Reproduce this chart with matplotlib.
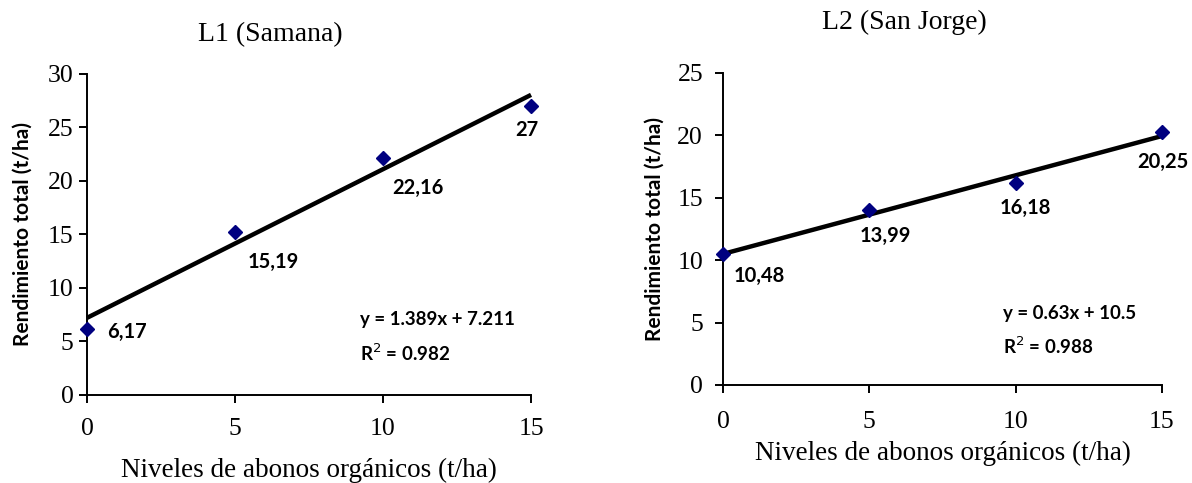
import matplotlib
matplotlib.use("Agg")
import matplotlib.pyplot as plt
import numpy as np

# data
niveles = [0, 5, 10, 15]
l1_rend = [6.17, 15.19, 22.16, 27]
l1_labels = ['6,17', '15,19', '22,16', '27']
l2_rend = [10.48, 13.99, 16.18, 20.25]
l2_labels = ['10,48', '13,99', '16,18', '20,25']

l1_ticks = [0, 5, 10, 15, 20, 25, 30]
l2_ticks = [0, 5, 10, 15, 20, 25]

serif = 'Liberation Serif'
sans = 'Lato'


def draw_panel(ax, y, labels, yticks, offsets, eq_xy, eq_text, r2_text,
               xpad, ypad):
  x = np.array(niveles, dtype=float)
  y = np.array(y, dtype=float)
  slope, icpt = np.polyfit(x, y, 1)   # linear trend line
  ax.plot(x, slope*x + icpt, color='black', lw=3.2, zorder=2,
          solid_capstyle='butt', clip_on=False)
  ax.plot(x, y, linestyle='none', marker='D', ms=7, color='#000080',
          zorder=3, clip_on=False)

  for xi, yi, lab, off in zip(x, y, labels, offsets):
    ax.annotate(lab, (xi, yi), xytext=off, textcoords='offset pixels',
                fontfamily=sans, fontweight='bold', fontsize=14.5,
                ha='left', va='center', annotation_clip=False)

  ax.text(eq_xy[0], eq_xy[1], eq_text, transform=ax.transAxes,
          fontfamily=sans, fontweight='bold', fontsize=13.5, ha='left', va='center')
  ax.text(eq_xy[0], eq_xy[1] - 0.103, r2_text, transform=ax.transAxes,
          fontfamily=sans, fontweight='bold', fontsize=13.5, ha='left', va='center')

  ax.set_xlim(0, 15)
  ax.set_ylim(yticks[0], yticks[-1])
  ax.set_xticks([0, 5, 10, 15])
  ax.set_yticks(yticks)
  for s in ['top', 'right']:
    ax.spines[s].set_visible(False)
  for s in ['left', 'bottom']:
    ax.spines[s].set_linewidth(1.4)
  ax.tick_params(axis='both', direction='out', length=5.8, width=1.4,
                 labelsize=18.5)
  ax.tick_params(axis='x', pad=xpad)
  ax.tick_params(axis='y', pad=ypad)
  for t in ax.get_xticklabels() + ax.get_yticklabels():
    t.set_fontfamily(serif)
  ax.set_ylabel('Rendimiento total (t/ha)', fontfamily=sans, fontweight='bold',
                fontsize=15, va='center')
  ax.set_xlabel('Niveles de abonos orgánicos (t/ha)', fontfamily=serif,
                fontsize=19.5, va='center')


fig = plt.figure(figsize=(11.92, 4.83), dpi=100)

ax1 = fig.add_axes([0.0730, 0.1822, 0.3725, 0.6646])
draw_panel(ax1, l1_rend, l1_labels, l1_ticks,
           [(20, -3), (13, -30), (9, -30), (-16, -24)],
           (0.615, 0.234), 'y = 1.389x + 7.211', 'R$^{2}$ = 0.982',
           xpad=11, ypad=4)
ax1.yaxis.set_label_coords(-0.146, 0.5)
ax1.xaxis.set_label_coords(0.5, -0.234)

ax2 = fig.add_axes([0.6065, 0.2029, 0.3683, 0.6460])
draw_panel(ax2, l2_rend, l2_labels, l2_ticks,
           [(11, -22), (-10, -26), (-16, -25), (-25, -30)],
           (0.638, 0.228), 'y = 0.63x + 10.5', 'R$^{2}$ = 0.988',
           xpad=13, ypad=8.5)
ax2.yaxis.set_label_coords(-0.155, 0.5)
ax2.xaxis.set_label_coords(0.5, -0.218)

fig.text(0.2265, 0.9275, 'L1 (Samana)', fontfamily=serif, fontsize=20,
         ha='center', va='center')
fig.text(0.7584, 0.9545, 'L2 (San Jorge)', fontfamily=serif, fontsize=20,
         ha='center', va='center')

fig.savefig('out.png', dpi=100)
